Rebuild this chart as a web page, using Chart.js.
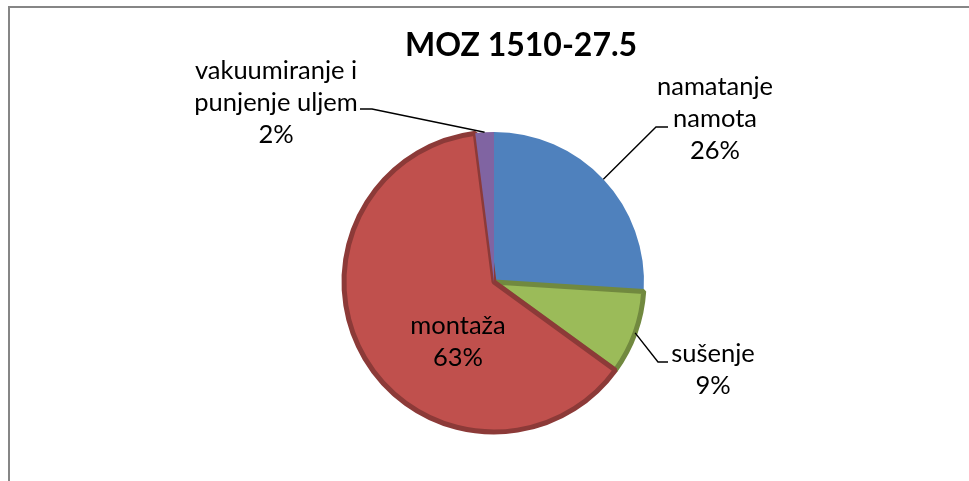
<!DOCTYPE html>
<html>
<head>
<meta charset="utf-8">
<script src="https://cdn.jsdelivr.net/npm/chart.js@4/dist/chart.umd.min.js"></script>
<style>
    html, body { margin: 0; padding: 0; background: #fff; overflow: hidden; }
    canvas { display: block; }
</style>
</head>
<body>
<canvas id="pieChart" width="969" height="481"></canvas>
<script>
// Podaci
const chartTitle = 'MOZ 1510-27.5';
const categories = [['namatanje', 'namota'], ['sušenje'], ['montaža'], ['vakuumiranje i', 'punjenje uljem']];
const shares = [26, 9, 63, 2];
const fillColors = ['#4F81BD', '#9BBB59', '#C0504D', '#8064A2'];
const edgeColors = ['#4F81BD', '#71893F', '#8C3A38', '#8064A2'];
const edgeWidths = [0, 5, 5, 0];

// Raspored oznaka (sredina teksta, prijelom linije, kraj linije)
const labelLayout = [
    { x: 715, y: 95, elbow: [656, 127], end: [668, 127] },
    { x: 713, y: 362, elbow: [658, 362], end: [668, 362] },
    { x: 458, y: 334 },
    { x: 276, y: 79, elbow: [372, 109], end: [360, 109] }
];
const lineHeight = 32;

const total = shares.reduce((a, b) => a + b, 0);

// Okvir i naslov
const framePlugin = {
    id: 'frame',
    beforeDraw(chart) {
        const ctx = chart.ctx;
        ctx.save();
        ctx.fillStyle = '#fff';
        ctx.fillRect(0, 0, chart.width, chart.height);
        ctx.strokeStyle = '#868686';
        ctx.lineWidth = 2;
        ctx.strokeRect(9, 7, 1200, 700);
        ctx.fillStyle = '#000';
        ctx.font = 'bold 32px Lato';
        ctx.textAlign = 'center';
        ctx.textBaseline = 'alphabetic';
        ctx.fillText(chartTitle, 521, 56);
        ctx.restore();
    }
};

// Oznake s linijama
const labelPlugin = {
    id: 'pieLabels',
    afterDatasetsDraw(chart) {
        const ctx = chart.ctx;
        const arcs = chart.getDatasetMeta(0).data;
        ctx.save();
        arcs.forEach((arc, i) => {
            const p = arc.getProps(['x', 'y', 'startAngle', 'endAngle', 'outerRadius'], true);
            const mid = (p.startAngle + p.endAngle) / 2;
            const pos = labelLayout[i];
            if (pos.elbow) {
                ctx.strokeStyle = '#000';
                ctx.lineWidth = 1.4;
                ctx.beginPath();
                ctx.moveTo(p.x + Math.cos(mid) * p.outerRadius, p.y + Math.sin(mid) * p.outerRadius);
                ctx.lineTo(pos.elbow[0], pos.elbow[1]);
                ctx.lineTo(pos.end[0], pos.end[1]);
                ctx.stroke();
            }
            const lines = categories[i].concat([Math.round(shares[i] / total * 100) + '%']);
            ctx.fillStyle = '#000';
            ctx.font = '25.5px Lato';
            ctx.textAlign = 'center';
            ctx.textBaseline = 'alphabetic';
            lines.forEach((t, k) => ctx.fillText(t, pos.x, pos.y + k * lineHeight));
        });
        ctx.restore();
    }
};

new Chart(document.getElementById('pieChart'), {
    type: 'pie',
    data: {
        labels: categories.map(c => c.join(' ')),
        datasets: [{
            data: shares,
            backgroundColor: fillColors,
            borderColor: edgeColors,
            borderWidth: edgeWidths
        }]
    },
    options: {
        responsive: false,
        animation: false,
        radius: 150,
        layout: { padding: { left: 344, right: 325, top: 132, bottom: 49 } },
        plugins: {
            legend: { display: false },
            tooltip: { enabled: false },
            title: { display: false }
        }
    },
    plugins: [framePlugin, labelPlugin]
});
</script>
</body>
</html>
